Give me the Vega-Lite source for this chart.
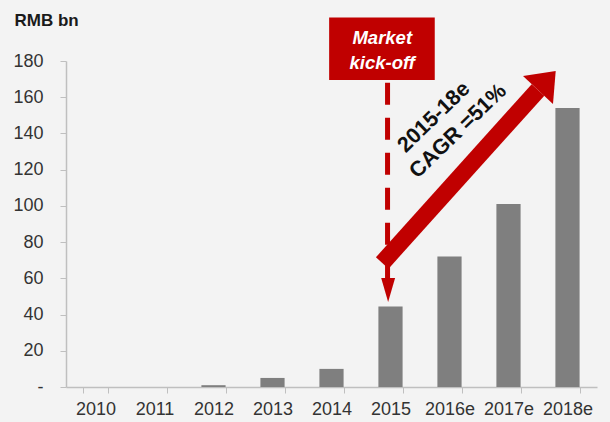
{
  "$schema": "https://vega.github.io/schema/vega-lite/v6.json",
  "width": 531,
  "height": 326,
  "autosize": {"type": "none"},
  "padding": {"left": 66, "top": 61, "right": 13, "bottom": 35},
  "background": "#f3f3f3",
  "config": {"view": {"stroke": null}, "font": "Liberation Sans"},
  "resolve": {"scale": {"x": "independent", "y": "independent"}},
  "layer": [
    {
      "data": {"values": [
        {"year": "2010", "value": 0},
        {"year": "2011", "value": 0},
        {"year": "2012", "value": 1},
        {"year": "2013", "value": 5},
        {"year": "2014", "value": 10},
        {"year": "2015", "value": 44.5},
        {"year": "2016e", "value": 72},
        {"year": "2017e", "value": 101},
        {"year": "2018e", "value": 154}
      ]},
      "mark": {"type": "bar", "color": "#7f7f7f"},
      "encoding": {
        "x": {
          "field": "year", "type": "ordinal", "sort": null,
          "scale": {"paddingInner": 0.59, "paddingOuter": 0.295},
          "axis": {"title": null, "labelAngle": 0, "labelFontSize": 18, "labelColor": "#333333",
                   "domainColor": "#bfbfbf", "domainWidth": 1.5, "tickColor": "#bfbfbf", "tickSize": 6,
                   "tickBand": "extent", "labelPadding": 7}
        },
        "y": {
          "field": "value", "type": "quantitative",
          "scale": {"domain": [0, 180], "nice": false},
          "axis": {"values": [0, 20, 40, 60, 80, 100, 120, 140, 160, 180],
                   "labelExpr": "datum.value == 0 ? '-' : datum.label",
                   "grid": false, "title": "RMB bn", "titleAngle": 0, "titleAlign": "left",
                   "titleBaseline": "alphabetic", "titleX": -52, "titleY": -36, "titleFontSize": 17,
                   "titleFontWeight": "bold", "titleColor": "#1a1a1a",
                   "labelFontSize": 18, "labelColor": "#333333", "labelPadding": 17, "tickSize": 6,
                   "domainColor": "#bfbfbf", "domainWidth": 1.5, "tickColor": "#bfbfbf"}
        }
      }
    },
    {
      "data": {"values": [{"x1": 4.46, "x2": 6.25, "y1": 169.5, "y2": 204}]},
      "mark": {"type": "rect", "color": "#c00000"},
      "encoding": {
        "x": {"field": "x1", "type": "quantitative", "scale": {"domain": [0, 9], "nice": false, "zero": false}, "axis": null},
        "x2": {"field": "x2"},
        "y": {"field": "y1", "type": "quantitative", "scale": {"domain": [0, 180], "nice": false}, "axis": null},
        "y2": {"field": "y2"}
      }
    },
    {
      "data": {"values": [
        {"label": "Market", "x": 5.36, "y": 192.7},
        {"label": "kick-off", "x": 5.36, "y": 178.9}
      ]},
      "mark": {"type": "text", "color": "white", "fontSize": 18.5, "fontWeight": "bold", "fontStyle": "italic", "align": "center", "baseline": "middle"},
      "encoding": {
        "x": {"field": "x", "type": "quantitative", "scale": {"domain": [0, 9], "nice": false, "zero": false}, "axis": null},
        "y": {"field": "y", "type": "quantitative", "scale": {"domain": [0, 180], "nice": false}, "axis": null},
        "text": {"field": "label"}
      }
    },
    {
      "data": {"values": [{"x": 5.45, "y1": 168, "y2": 60}]},
      "mark": {"type": "rule", "color": "#c00000", "strokeWidth": 5, "strokeDash": [22, 13]},
      "encoding": {
        "x": {"field": "x", "type": "quantitative", "scale": {"domain": [0, 9], "nice": false, "zero": false}, "axis": null},
        "y": {"field": "y1", "type": "quantitative", "scale": {"domain": [0, 180], "nice": false}, "axis": null},
        "y2": {"field": "y2"}
      }
    },
    {
      "data": {"values": [{"x": 5.46, "y": 53.6}]},
      "mark": {"type": "point", "shape": "M-0.58,-1L0.58,-1L0,1Z", "size": 576, "filled": true, "color": "#c00000", "opacity": 1},
      "encoding": {
        "x": {"field": "x", "type": "quantitative", "scale": {"domain": [0, 9], "nice": false, "zero": false}, "axis": null},
        "y": {"field": "y", "type": "quantitative", "scale": {"domain": [0, 180], "nice": false}, "axis": null}
      }
    },
    {
      "data": {"values": [{"x1": 5.36, "y1": 68.5, "x2": 8.0, "y2": 164.0}]},
      "mark": {"type": "rule", "color": "#c00000", "strokeWidth": 17, "strokeCap": "butt"},
      "encoding": {
        "x": {"field": "x1", "type": "quantitative", "scale": {"domain": [0, 9], "nice": false, "zero": false}, "axis": null},
        "x2": {"field": "x2"},
        "y": {"field": "y1", "type": "quantitative", "scale": {"domain": [0, 180], "nice": false}, "axis": null},
        "y2": {"field": "y2"}
      }
    },
    {
      "data": {"values": [{"x": 8.15, "y": 169.2}]},
      "mark": {"type": "point", "shape": "M0,-0.634L1,0.634L-1,0.634Z", "size": 1681, "angle": 43, "filled": true, "color": "#c00000", "opacity": 1},
      "encoding": {
        "x": {"field": "x", "type": "quantitative", "scale": {"domain": [0, 9], "nice": false, "zero": false}, "axis": null},
        "y": {"field": "y", "type": "quantitative", "scale": {"domain": [0, 180], "nice": false}, "axis": null}
      }
    },
    {
      "data": {"values": [
        {"label": "2015-18e", "x": 6.24, "y": 148.8},
        {"label": "CAGR =51%", "x": 6.65, "y": 141.1}
      ]},
      "mark": {"type": "text", "color": "#111111", "fontSize": 21.5, "fontWeight": "bold", "angle": 316, "align": "center", "baseline": "middle"},
      "encoding": {
        "x": {"field": "x", "type": "quantitative", "scale": {"domain": [0, 9], "nice": false, "zero": false}, "axis": null},
        "y": {"field": "y", "type": "quantitative", "scale": {"domain": [0, 180], "nice": false}, "axis": null},
        "text": {"field": "label"}
      }
    }
  ]
}
